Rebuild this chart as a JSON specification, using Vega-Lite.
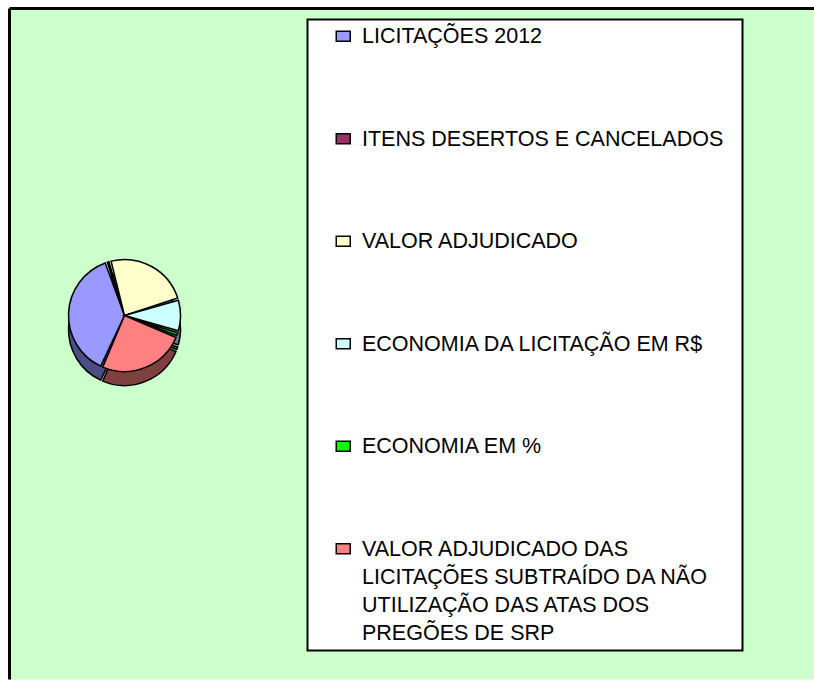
{
  "$schema": "https://vega.github.io/schema/vega-lite/v6.json",
  "width": 805,
  "height": 671,
  "autosize": {"type": "none"},
  "padding": {"left": 9.5, "top": 8.5, "right": 0, "bottom": 0},
  "background": "white",
  "config": {
    "view": {"fill": "#CCFFCC", "stroke": "black", "strokeWidth": 3},
    "legend": {"strokeWidth": 2}
  },
  "data": {
    "values": [
      {"ordem": 1, "cat": "LICITAÇÕES 2012", "valor": 137},
      {"ordem": 2, "cat": "ITENS DESERTOS E CANCELADOS", "valor": 4},
      {"ordem": 3, "cat": "VALOR ADJUDICADO", "valor": 88},
      {"ordem": 4, "cat": "ECONOMIA DA LICITAÇÃO EM R$", "valor": 34},
      {"ordem": 5, "cat": "ECONOMIA EM %", "valor": 5},
      {"ordem": 6, "cat": "VALOR ADJUDICADO DAS LICITAÇÕES SUBTRAÍDO DA NÃO UTILIZAÇÃO DAS ATAS DOS PREGÕES DE SRP", "valor": 92}
    ]
  },
  "layer": [
    {
      "data": {"values": [{"fundo": 1}]},
      "mark": {"type": "rect", "fill": "#CCFFCC", "stroke": "black", "strokeWidth": 3, "strokeDash": [805, 1476, 671, 0]},
      "encoding": {}
    },
    {
      "mark": {"type": "arc", "x": 115, "y": 321, "radius": 56, "stroke": "black", "strokeWidth": 1.5, "padAngle": 0.04},
      "encoding": {
        "theta": {"field": "valor", "type": "quantitative", "stack": true, "scale": {"range": [3.5605, 9.8437]}},
        "order": {"field": "ordem", "type": "quantitative"},
        "fill": {
          "field": "cat", "type": "nominal",
          "sort": ["LICITAÇÕES 2012", "ITENS DESERTOS E CANCELADOS", "VALOR ADJUDICADO", "ECONOMIA DA LICITAÇÃO EM R$", "ECONOMIA EM %", "VALOR ADJUDICADO DAS LICITAÇÕES SUBTRAÍDO DA NÃO UTILIZAÇÃO DAS ATAS DOS PREGÕES DE SRP"],
          "scale": {"range": ["#4D4D85", "#4C1A33", "#7F7F66", "#668080", "#007F00", "#7F4040"]},
          "legend": null
        }
      }
    },
    {
      "mark": {"type": "arc", "x": 115, "y": 307, "radius": 56, "stroke": "black", "strokeWidth": 1.5, "padAngle": 0.04},
      "encoding": {
        "theta": {"field": "valor", "type": "quantitative", "stack": true},
        "order": {"field": "ordem", "type": "quantitative"},
        "color": {
          "field": "cat", "type": "nominal",
          "sort": ["LICITAÇÕES 2012", "ITENS DESERTOS E CANCELADOS", "VALOR ADJUDICADO", "ECONOMIA DA LICITAÇÃO EM R$", "ECONOMIA EM %", "VALOR ADJUDICADO DAS LICITAÇÕES SUBTRAÍDO DA NÃO UTILIZAÇÃO DAS ATAS DOS PREGÕES DE SRP"],
          "scale": {"range": ["#9999FF", "#993366", "#FFFFCC", "#CCFFFF", "#00FF00", "#FF8080"]},
          "legend": {
            "title": " ",
            "titleOrient": "right",
            "titlePadding": 13,
            "titleFontSize": 21,
            "orient": "none",
            "legendX": 298,
            "legendY": 11,
            "fillColor": "white",
            "strokeColor": "black",
            "padding": 6,
            "symbolType": "M-1.4,-1H1.4V1H-1.4Z",
            "symbolSize": 100,
            "symbolStrokeColor": "black",
            "symbolStrokeWidth": 1.5,
            "symbolOffset": 19,
            "labelOffset": 8,
            "labelFont": "Liberation Sans",
            "labelFontSize": 21.5,
            "labelColor": "black",
            "labelLimit": 600,
            "labelBaseline": "alphabetic",
            "rowPadding": 79.5,
            "labelExpr": "datum.label == 'VALOR ADJUDICADO DAS LICITAÇÕES SUBTRAÍDO DA NÃO UTILIZAÇÃO DAS ATAS DOS PREGÕES DE SRP' ? ['VALOR ADJUDICADO DAS', 'LICITAÇÕES  SUBTRAÍDO DA NÃO', 'UTILIZAÇÃO DAS ATAS DOS', 'PREGÕES DE SRP'] : datum.label",
            "encode": {"labels": {"update": {"lineHeight": {"value": 28}, "dy": {"value": 7}}}}
          }
        }
      }
    }
  ]
}
